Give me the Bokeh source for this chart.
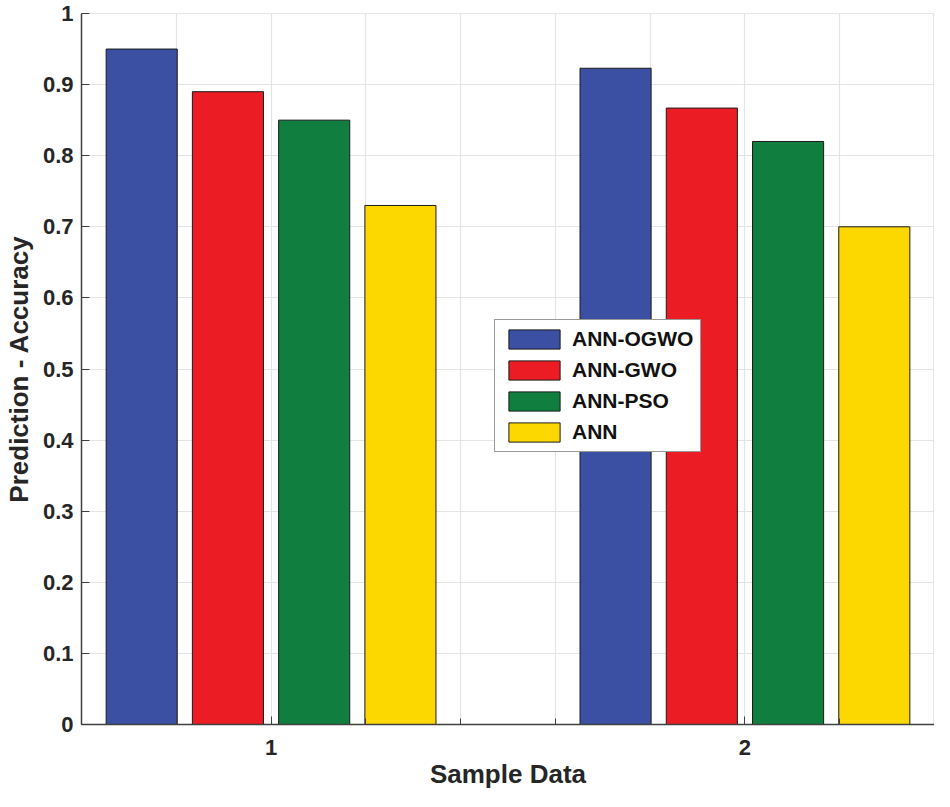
from bokeh.plotting import figure
from bokeh.models import FixedTicker, Range1d, Legend, LegendItem, ColumnDataSource
from bokeh.embed import file_html
from bokeh.resources import INLINE

samples = [1, 2]
series_names = ["ANN-OGWO", "ANN-GWO", "ANN-PSO", "ANN"]
ann_ogwo = [0.95, 0.923]
ann_gwo = [0.89, 0.867]
ann_pso = [0.85, 0.82]
ann = [0.73, 0.70]
y_ticks = [0, 0.1, 0.2, 0.3, 0.4, 0.5, 0.6, 0.7, 0.8, 0.9, 1]
y_tick_labels = ["0", "0.1", "0.2", "0.3", "0.4", "0.5", "0.6", "0.7", "0.8", "0.9", "1"]
x_grid = [0.6, 0.8, 1.0, 1.2, 1.4, 1.6, 1.8, 2.0, 2.2, 2.4]

colors = ["#3B50A3", "#EC1C24", "#0F7E3E", "#FDD800"]
FONT = "Liberation Sans"
TXT = "#262626"

p = figure(width=934, height=791, output_backend="svg", toolbar_location=None,
           x_range=Range1d(0.6, 2.4), y_range=Range1d(0, 1),
           min_border_left=74, min_border_right=0, min_border_top=13, min_border_bottom=67)
p.background_fill_color = "white"
p.border_fill_color = "white"
p.outline_line_color = "#e4e4e4"

values = [ann_ogwo, ann_gwo, ann_pso, ann]
bar_w = 0.15
step = 0.182
renderers = []
for i, (name, vals) in enumerate(zip(series_names, values)):
    xs = [s + (i - 1.5) * step for s in samples]
    src = ColumnDataSource(dict(x=xs, top=vals))
    r = p.vbar(x="x", top="top", bottom=0, width=bar_w, source=src,
               fill_color=colors[i], line_color="#1a1a1a", line_width=1)
    renderers.append(r)

# axes
p.xaxis.ticker = FixedTicker(ticks=samples, minor_ticks=x_grid)
p.yaxis.ticker = FixedTicker(ticks=y_ticks)
p.yaxis.major_label_overrides = {t: l for t, l in zip(y_ticks, y_tick_labels)}
p.xaxis.major_label_overrides = {s: str(s) for s in samples}

for ax in (p.xaxis[0], p.yaxis[0]):
    ax.axis_line_color = "#404040"
    ax.axis_line_width = 1.5
    ax.major_tick_line_color = "#404040"
    ax.major_tick_in = 8
    ax.major_tick_out = 0
    ax.minor_tick_line_color = "#404040"
    ax.minor_tick_in = 6
    ax.minor_tick_out = 0
    ax.major_label_text_font = FONT
    ax.major_label_text_font_style = "bold"
    ax.major_label_text_font_size = "22px"
    ax.major_label_text_color = TXT
    ax.axis_label_text_font = FONT
    ax.axis_label_text_font_style = "bold"
    ax.axis_label_text_font_size = "26px"
    ax.axis_label_text_color = TXT
p.yaxis.minor_tick_line_color = None
p.xaxis.axis_label = "Sample Data"
p.yaxis.axis_label = "Prediction - Accuracy"
p.xaxis.major_label_standoff = 15
p.yaxis.major_label_standoff = 8
p.xaxis.axis_label_standoff = 1
p.yaxis.axis_label_standoff = 6

p.xgrid.ticker = FixedTicker(ticks=x_grid)
p.ygrid.ticker = FixedTicker(ticks=y_ticks)
p.grid.grid_line_color = "#e4e4e4"
p.grid.grid_line_width = 1.2

legend = Legend(items=[LegendItem(label=n, renderers=[r]) for n, r in zip(series_names, renderers)],
                location=(413, 272))
legend.label_text_font = FONT
legend.label_text_font_style = "bold"
legend.label_text_font_size = "21px"
legend.label_text_color = "#111111"
legend.glyph_width = 64
legend.glyph_height = 24
legend.label_height = 24
legend.spacing = 7
legend.padding = 7
legend.margin = 0
legend.label_standoff = 6
legend.border_line_color = "#333333"
legend.border_line_width = 1
legend.background_fill_alpha = 1
p.add_layout(legend, "center")

open("out.html", "w").write(file_html(p, INLINE))
